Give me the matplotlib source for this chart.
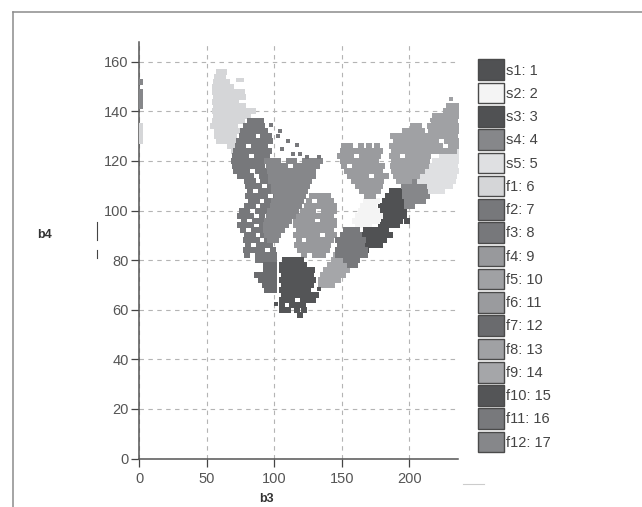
import matplotlib
matplotlib.use("Agg")
import matplotlib.pyplot as plt
from matplotlib.lines import Line2D
from matplotlib.patches import Patch

plt.rcParams['font.family'] = ['Liberation Sans', 'DejaVu Sans']

s1_y = [108,106,104,102,100,98,96,94]
s1_x = [[187,191,195],[184,188,192,196],[182,186,190,194],[179,183,187,191,195],[177,181,185,189,193,196],[180,184,188,192,196],[181,185,189,193,198],[179,183,187,191]]
s2_y = [104,102,100,98,96,94]
s2_x = [[168,172,176],[166,170,174],[164,168,172,176],[162,166,170,174,178],[160,164,168,172,176],[162,166,170]]
s3_y = [92,90,88,86,84]
s3_x = [[168,172,176,180,183],[166,170,174,178,182,186],[165,169,173,177,181],[166,170,174,178],[168]]
s4_y = [112,110,108,106,104,102]
s4_x = [[197,201,205,209,213],[196,200,204,208,212,215],[197,201,205,209,213],[197,201,205,209,213],[198,202,206,210],[198,202]]
s5_y = [124,122,120,118,116,114,112,110,108]
s5_x = [[228,232,236],[224,228,232,236],[219,223,227,231,235],[214,218,222,226,230,234],[211,215,219,223,227,231,235],[209,213,217,221,225,229,233],[208,212,216,220,224,228,232],[215,219,223,227,230],[216,220,224]]
f1_y = [156,154,152,150,148,146,144,142,140,138,136,134,132,130,128,126,124]
f1_x = [[59,63],[58,62],[57,61,65],[56,60,64,68],[56,60,64,68,72,76],[57,61,65,69,73,77],[56,60,64,68,72],[57,61,65,69,73,77],[56,60,64,68,72,76,80,84],[57,61,65,69,73,77,81],[56,60,64,68,72,76],[1,55,59,63,67,71],[1,58,62,66,70,74],[1,58,62,66,70],[1,59,63,67,71],[67,71],[70]]
f2_y = [136,134,132,130,128,126,124,122,120,118,116,114]
f2_x = [[82,86,90],[79,83,87,91],[77,81,85,89,93],[76,80,84,92,96],[74,78,82,86,90,94,97],[73,77,85,89,93],[72,76,80,84,88,92,96],[71,75,79,87,91,95],[70,74,78,82,86,90,94],[71,75,79,83,87,91],[72,76,80,88,92,96],[75,79,83,91,95]]
f2_stray_x = [98,104,103,110,117,106,114,119,124,133]
f2_stray_y = [134.5,132,130,128,126.5,125,123,123,121.7,121.7]
f3_y = [112,110,108,106,104,102,100,98,96,94,92,90,88,86,84,82,80]
f3_x = [[80,84,92,96],[81,85,89,97,101],[82,90,94,98],[81,85,89,93,101],[83,87,95,99],[80,84,92,96],[76,80,88,92,95],[75,79,83,91],[78,86,90,94],[75,79,83,91,95],[77,85,89,93],[80,84,92,96],[79,83,87,95,99],[81,89,93,97],[79,83,87,91,99],[80,88,92,96,100],[88,92,96,100]]
f4_y = [106,104,102,100,98,96,94,92,90,88,86,84,82]
f4_x = [[128,132,136,140],[126,134,138,142],[124,128,132,136,140,144],[121,125,129,137,141,144],[118,122,126,130,134,138,142],[116,120,124,128,136,140,144],[116,120,124,128,132,136,140,144],[118,122,126,130,134,138,142],[116,120,124,128,132,140,144],[118,126,130,134,138,142],[117,121,125,129,133,137,140],[119,123,127,131,135,139],[122,130,134,136]]
f5_y = [134,132,130,128,126,124,122,120,118,116,114,112]
f5_x = [[203,207],[197,201,205,209],[188,192,196,200,204,208,212],[190,194,198,202,206,210,214],[187,191,195,199,203,207,211,214],[189,193,197,201,205,209,213],[187,191,199,203,207,211,214],[189,193,197,201,205,209,213],[188,192,196,200,204,208,212],[189,193,197,201,205,209],[190,194,198,202,206],[192,196,200]]
f6_y = [126,124,122,120,118,116,114,112,110,108,106]
f6_x = [[152,156,164,170,176],[151,155,159,163,167,171,175,178],[149,153,157,165,169,173,177],[151,155,159,163,167,171,175],[152,160,164,168,172,176,180],[154,158,162,166,170,174,178],[156,160,164,168,176,180,183],[159,163,167,171,175,179],[162,166,170,174,178],[165,169,173,177],[169,173]]
f7_y = [78,76,74,72,70,68]
f7_x = [[94,98,100],[94,98,100],[87,92,96,100],[90,94,98,100],[93,97,100],[95,99,100]]
f8_y = [142,140,138,136,134,132,130,128,126,124]
f8_x = [[229,233,236],[227,231,235],[219,223,227,231,235],[218,222,226,230,234],[215,219,223,227,231,235],[216,220,224,228,232,236],[214,218,222,226,230,234],[216,220,228,232,236],[215,219,223,231,235],[217,221,225,229,233]]
f8_stray_x = [231,217]
f8_stray_y = [145,136.5]
f9_y = [82,80,78,76,74,72,70]
f9_x = [[146,149],[144,148,152],[141,145,149,153,156],[138,142,146,150,154],[136,140,144,148,151],[135,139,143,147],[135,139,143]]
f10_y = [80,78,76,74,72,70,68,66,64,62,60,58]
f10_x = [[108,112,116,120],[106,110,114,118,122],[106,109,113,117,121,125,128],[107,111,115,119,123,127],[106,109,113,117,121,125,129],[107,111,115,119,123,127],[106,109,113,117,121,125],[107,111,115,119,123,127,131],[106,109,113,121,125,129],[106,113,117,121],[106,110,117,122],[119]]
f10_stray_x = [133,101]
f10_stray_y = [68.5,62.5]
f11_y = [92,90,88,86,84,82,80,78]
f11_x = [[153,157,161],[151,155,159,163],[147,150,154,158,162,166],[149,153,157,161,165],[147,151,155,159,163,167],[147,151,155,159,163,167],[153,157,161],[156,160]]
f12_y = [152,148,146,144,142,120,118,116,114,112,110,108,106,104,102,100,98,96,94,92,90,88]
f12_x = [[1],[1],[1],[1],[1],[95,99,103,111,115,123,127,131,134],[96,100,104,108,116,120,124,128,132],[97,101,105,109,113,117,121,125,129],[98,102,106,110,114,118,122,126,129],[98,102,106,110,114,118,122,126],[100,104,108,112,116,120,124],[100,104,108,112,116,120,123],[102,106,110,114,118,121],[100,104,108,112,116,120],[99,103,107,111,115,118],[97,101,105,109,113,116],[96,100,104,108,112,114],[95,99,103,107,111],[94,98,102,106,109],[94,98,102,106],[95,99,103],[97,101]]
f1_stray_x = [73,76]
f1_stray_y = [152.5,152.5]

labels = ['s1: 1','s2: 2','s3: 3','s4: 4','s5: 5','f1: 6','f2: 7','f3: 8','f4: 9','f5: 10','f6: 11','f7: 12','f8: 13','f9: 14','f10: 15','f11: 16','f12: 17']
colors = ['#505153','#f4f4f4','#505153','#86878a','#dfe0e2','#d5d6d8','#77787b','#77787b','#98999c','#a0a1a4','#9a9b9e','#6a6b6e','#a0a1a4','#a5a6a9','#545557','#78797c','#86878a']
series = [(s1_x,s1_y),(s2_x,s2_y),(s3_x,s3_y),(s4_x,s4_y),(s5_x,s5_y),(f1_x,f1_y),(f2_x,f2_y),(f3_x,f3_y),(f4_x,f4_y),(f5_x,f5_y),(f6_x,f6_y),(f7_x,f7_y),(f8_x,f8_y),(f9_x,f9_y),(f10_x,f10_y),(f11_x,f11_y),(f12_x,f12_y)]
xticks = [0,50,100,150,200]
yticks = [0,20,40,60,80,100,120,140,160]

W, H = 642, 507
fig = plt.figure(figsize=(W/100, H/100), dpi=100, facecolor='white')
ax = fig.add_axes([139/W, 1-458.5/H, 319/W, 416.5/H])
ax.set_xlim(0, 236)
ax.set_ylim(0, 168)

ax.grid(True, ls=(0,(4,4)), lw=0.8, color='#b4b4b4')
ax.set_axisbelow(True)
for (xr, yr), c in zip(series, colors):
    xs = [v for row in xr for v in row]
    ys = [y for row, y in zip(xr, yr) for _ in row]
    ax.scatter(xs, ys, marker='s', s=16, color=c, linewidths=0, zorder=3)
ax.scatter(f1_stray_x, f1_stray_y, marker='s', s=6, color=colors[5], linewidths=0, zorder=3)
ax.scatter(f2_stray_x, f2_stray_y, marker='s', s=6, color=colors[6], linewidths=0, zorder=3)
ax.scatter(f8_stray_x, f8_stray_y, marker='s', s=6, color=colors[12], linewidths=0, zorder=3)
ax.scatter(f10_stray_x, f10_stray_y, marker='s', s=6, color=colors[14], linewidths=0, zorder=3)

for sp in ('top','right'):
    ax.spines[sp].set_visible(False)
for sp in ('left','bottom'):
    ax.spines[sp].set_color('#555555')
    ax.spines[sp].set_linewidth(1.1)
ax.set_xticks(xticks)
ax.set_yticks(yticks)
ax.tick_params(axis='x', length=5.5, width=0.9, color='#444444', labelsize=10.5, labelcolor='#555555', pad=4)
ax.tick_params(axis='y', length=5.5, width=0.9, color='#444444', labelsize=10.5, labelcolor='#555555', pad=2)

handles = [Patch(facecolor=c, edgecolor='#4a4a4a', linewidth=1.0) for c in colors]
fig.legend(handles, labels, loc='upper left', bbox_to_anchor=(477.5/W, 1-59.5/H), bbox_transform=fig.transFigure,
           frameon=False, fontsize=10.5, borderpad=0, borderaxespad=0, handlelength=1.8, handleheight=1.8,
           handletextpad=0.15, labelspacing=0.18, labelcolor='#444444')

fig.text(45/W, 1-235/H, 'b4', weight='bold', fontsize=9, color='#333333', ha='center', va='center')
fig.text(266/W, 1-499/H, 'b3', weight='bold', fontsize=9, color='#333333', ha='center', va='center')

def px_line(x0, y0, x1, y1, color, lw):
    fig.add_artist(Line2D([x0/W, x1/W], [1-y0/H, 1-y1/H], color=color, lw=lw, transform=fig.transFigure))

px_line(13, 12, 642, 12, '#8c8c8c', 1.1)
px_line(13, 12, 13, 507, '#8c8c8c', 1.1)
px_line(96.5, 222, 96.5, 240, '#444444', 0.8)
px_line(96.5, 250, 96.5, 258, '#444444', 0.8)
px_line(463, 484, 484, 484, '#cccccc', 0.8)

fig.savefig('out.png', dpi=100, facecolor='white')
